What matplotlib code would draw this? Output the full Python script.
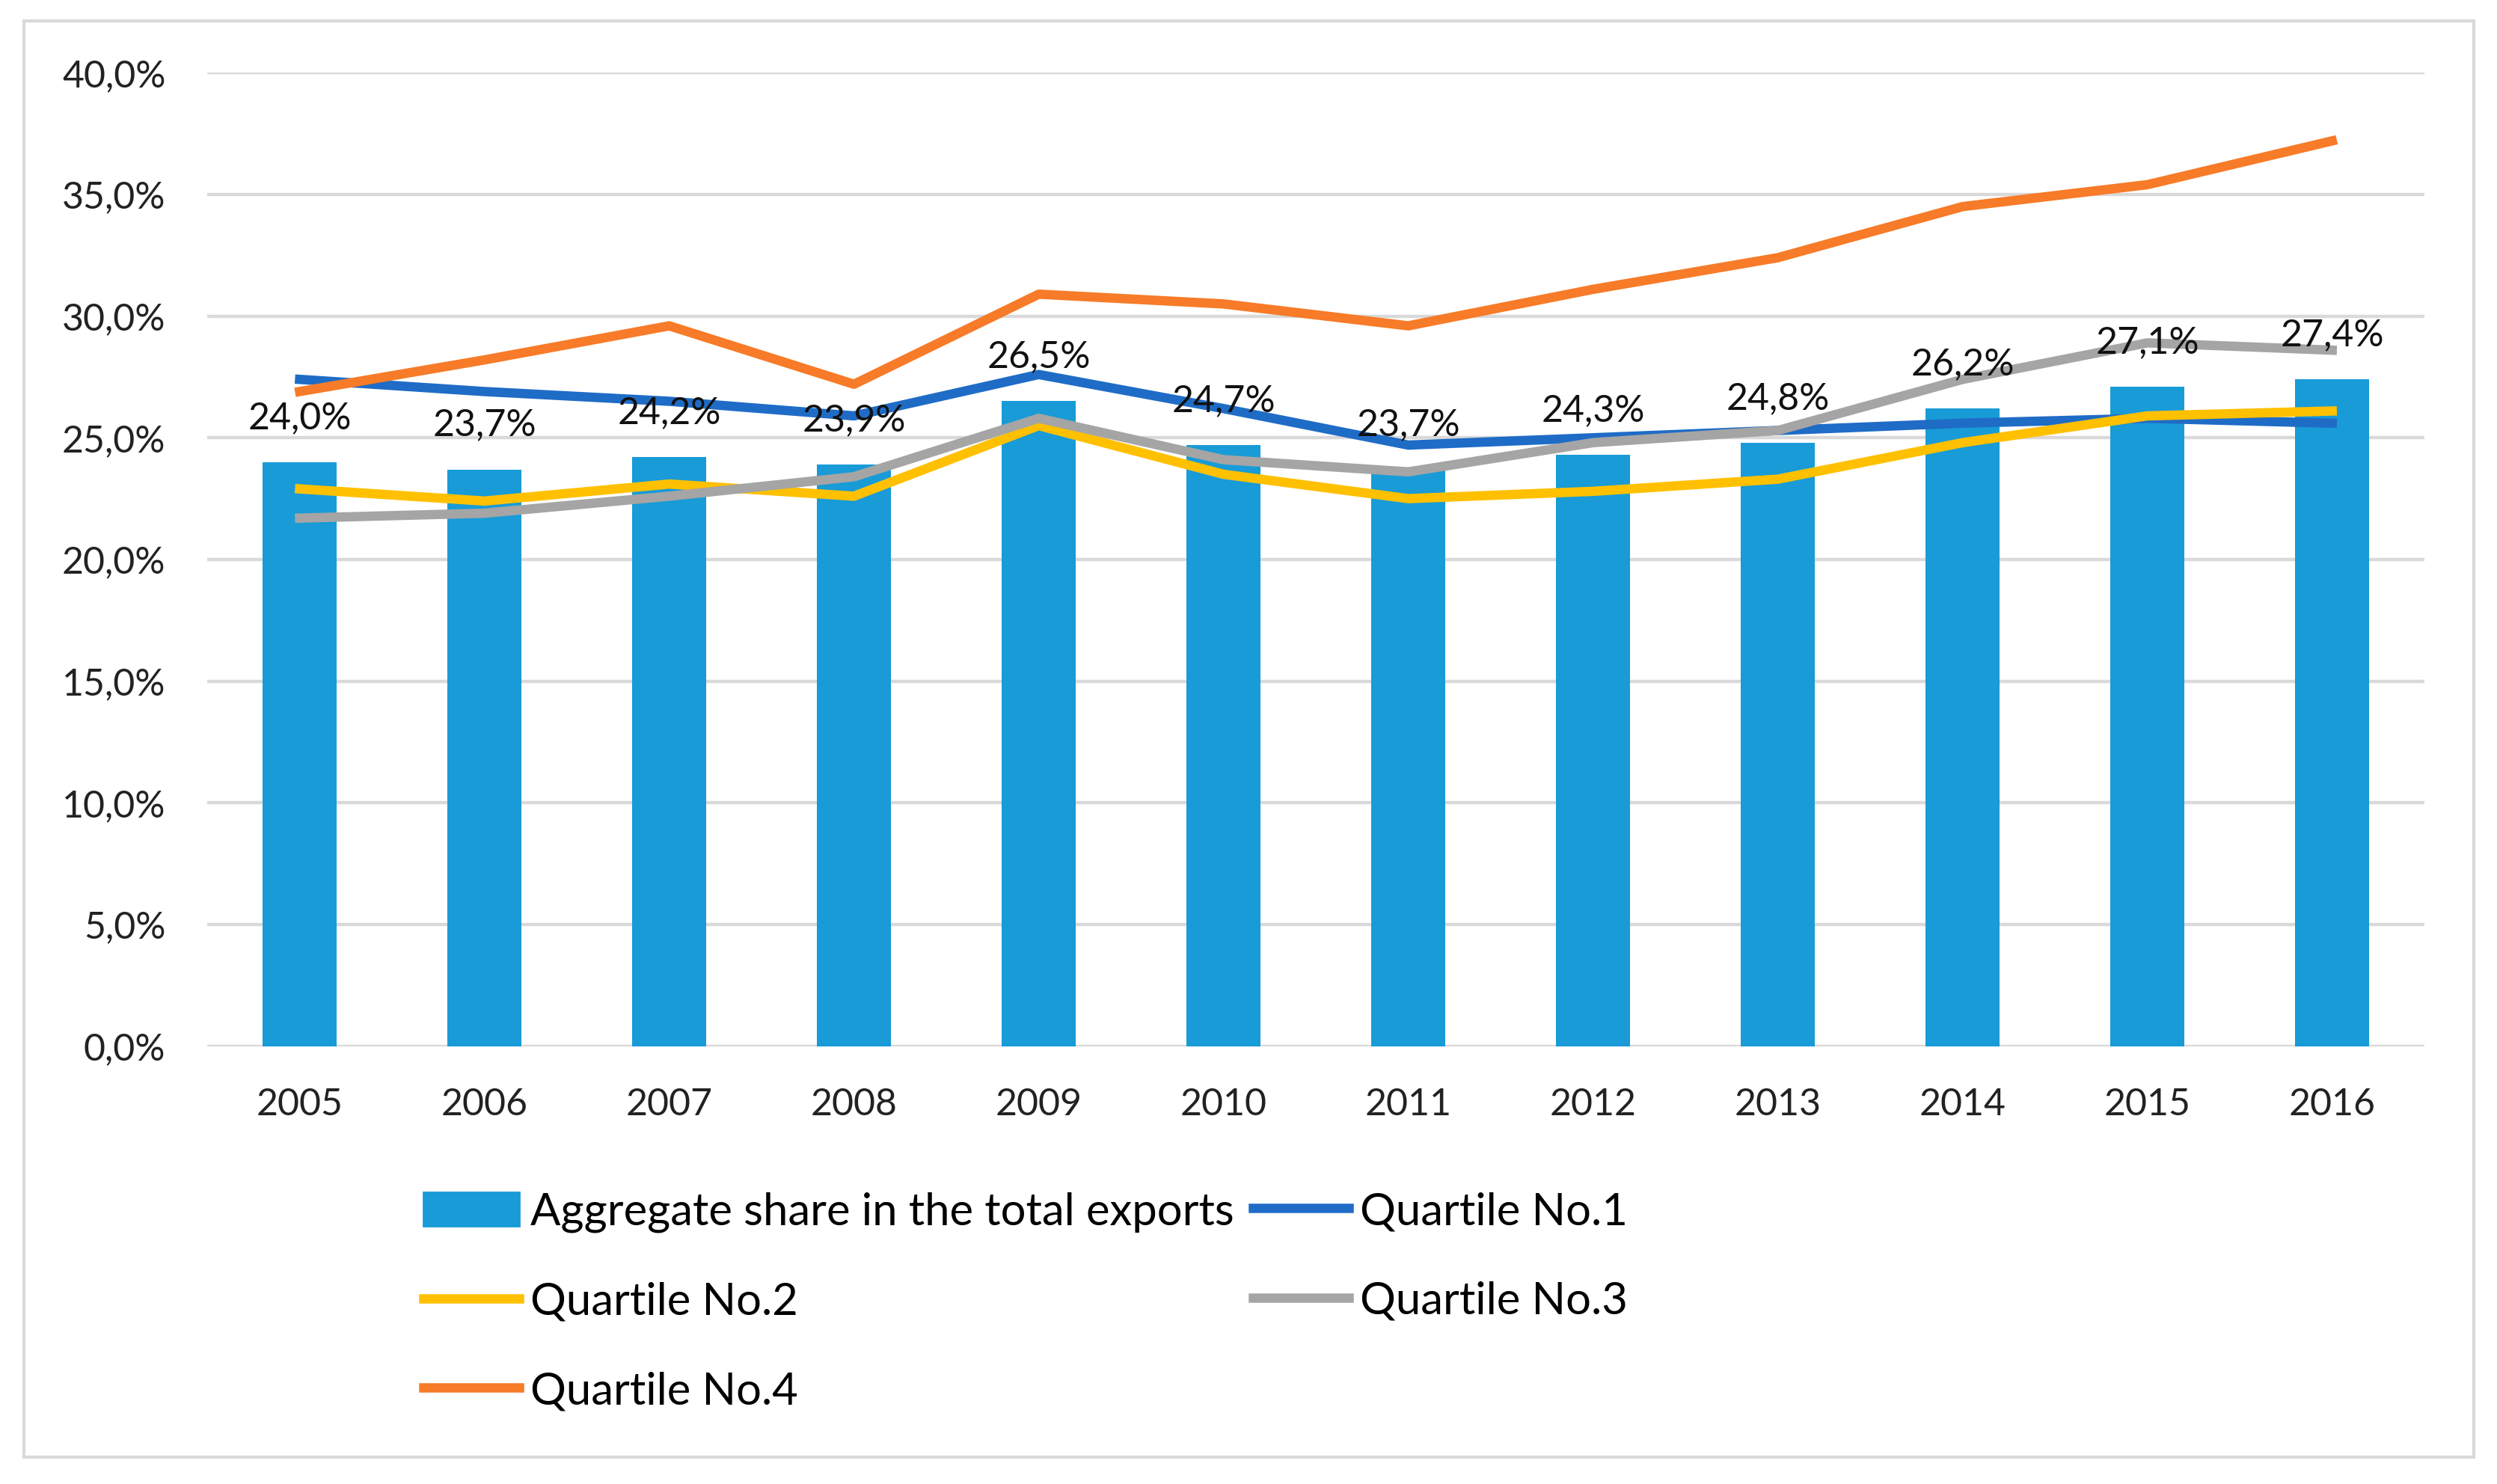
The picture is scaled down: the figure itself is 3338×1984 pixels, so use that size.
import numpy as np
import matplotlib.pyplot as plt
from matplotlib.patches import Rectangle
from matplotlib.lines import Line2D
from matplotlib.ticker import FuncFormatter

plt.rcParams['font.family'] = ['Lato', 'DejaVu Sans']

years = ['2005', '2006', '2007', '2008', '2009', '2010', '2011', '2012', '2013', '2014', '2015', '2016']
aggregate = [24.0, 23.7, 24.2, 23.9, 26.5, 24.7, 23.7, 24.3, 24.8, 26.2, 27.1, 27.4]
q1 = [27.4, 26.9, 26.5, 25.9, 27.6, 26.2, 24.7, 25.0, 25.3, 25.6, 25.8, 25.6]
q2 = [22.9, 22.4, 23.1, 22.6, 25.5, 23.5, 22.5, 22.8, 23.3, 24.8, 25.9, 26.1]
q3 = [21.7, 21.9, 22.6, 23.4, 25.8, 24.1, 23.6, 24.8, 25.3, 27.4, 28.9, 28.6]
q4 = [26.9, 28.2, 29.6, 27.2, 30.9, 30.5, 29.6, 31.1, 32.4, 34.5, 35.4, 37.2]

c_bar = '#189bd7'
c_q1 = '#1f6cc6'
c_q2 = '#ffc000'
c_q3 = '#a5a5a5'
c_q4 = '#f77b28'
grid_c = '#d9d9d9'

fig = plt.figure(figsize=(16.69, 9.92), dpi=200)
ax = fig.add_axes([0.083, 0.295, 0.888, 0.656])

x = np.arange(len(years))
ax.bar(x, aggregate, width=0.4, color=c_bar, zorder=2)
ax.plot(x, q1, color=c_q1, lw=4.5, zorder=3)
ax.plot(x, q2, color=c_q2, lw=4.5, zorder=3)
ax.plot(x, q3, color=c_q3, lw=4.5, zorder=3)
ax.plot(x, q4, color=c_q4, lw=4.5, zorder=3)

for xi, v in zip(x, aggregate):
    ax.annotate(('%.1f%%' % v).replace('.', ','), (xi, v), xytext=(0, 13),
                textcoords='offset points', ha='center', va='bottom',
                fontsize=18, color='#111111', zorder=4)

ax.set_xlim(-0.5, len(years) - 0.5)
ax.set_ylim(0, 40)
ax.set_yticks(np.arange(0, 41, 5))
ax.yaxis.set_major_formatter(FuncFormatter(lambda v, p: ('%.1f%%' % v).replace('.', ',')))
ax.set_xticks(x)
ax.set_xticklabels(years)
ax.tick_params(axis='both', length=0, labelsize=18, colors='#222222')
ax.tick_params(axis='x', pad=20)
ax.tick_params(axis='y', pad=20)
ax.grid(axis='y', color=grid_c, lw=1.6, zorder=0)
ax.set_axisbelow(True)
for s in ax.spines.values():
    s.set_visible(False)

handles = [
    Rectangle((0, 0), 1, 1, color=c_bar),
    Line2D([], [], color=c_q2, lw=4.5),
    Line2D([], [], color=c_q4, lw=4.5),
    Line2D([], [], color=c_q1, lw=4.5),
    Line2D([], [], color=c_q3, lw=4.5),
]
labels = ['Aggregate share in the total exports', 'Quartile No.2', 'Quartile No.4',
          'Quartile No.1', 'Quartile No.3']
fig.legend(handles, labels, ncol=2, loc='upper left', bbox_to_anchor=(0.1605, 0.212),
           frameon=False, fontsize=21.5, handlelength=2.15, handleheight=0.8,
           handletextpad=0.25, columnspacing=0.42, labelspacing=1.1, borderpad=0)

fig.patches.append(Rectangle((0.0096, 0.018), 0.981, 0.968, transform=fig.transFigure,
                             fill=False, edgecolor=grid_c, lw=1.5))

fig.savefig('out.png', dpi=200)
